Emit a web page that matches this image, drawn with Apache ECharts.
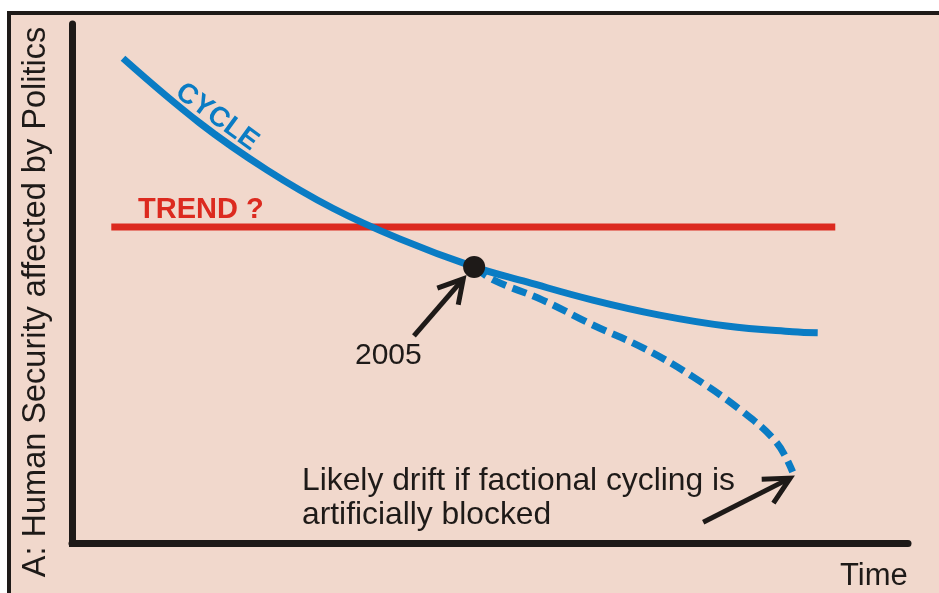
<!DOCTYPE html>
<html>
<head>
<meta charset="utf-8">
<script src="https://cdn.jsdelivr.net/npm/echarts@6/dist/echarts.min.js"></script>
<style>
html,body{margin:0;padding:0;background:#ffffff;}
#chart{width:939px;height:593px;}
</style>
</head>
<body>
<div id="chart"></div>
<script>
// Values (x: time 0-100, y: human security 0-100)
var cycleX = [6.1, 15.3, 23.3, 31.2, 39.2, 48.1, 54.4, 62.3, 70.3, 78.3, 86.2, 89.2];
var cycleY = [93.4, 80.9, 71.9, 64.5, 58.6, 53.2, 50.3, 46.8, 43.9, 41.8, 40.7, 40.5];
var driftX = [48.1, 50.4, 56.3, 62.3, 68.3, 74.3, 80.3, 84.3, 86.2];
var driftY = [53.2, 50.7, 46.8, 42.0, 37.6, 32.0, 25.2, 19.3, 13.7];
var trendX = [4.7, 91.3];
var trendY = [60.9, 60.9];
var point2005 = [48.1, 53.2];
var arrow1Shaft = [[40.9, 39.9], [46.8, 50.9]];
var arrow1Head = [[43.7, 49.1], [46.8, 50.9], [46.2, 45.9]];
var arrow2Shaft = [[75.5, 4.0], [85.9, 12.5]];
var arrow2Head = [[82.5, 12.3], [85.9, 12.5], [83.9, 7.7]];
var labels = {
  yName: 'A: Human Security affected by Politics',
  xName: 'Time',
  cycle: 'CYCLE',
  trend: 'TREND ?',
  year: '2005',
  note1: 'Likely drift if factional cycling is',
  note2: 'artificially blocked'
};

function zip(xs, ys) { return xs.map(function (x, i) { return [x, ys[i]]; }); }

var BLUE = '#0a7cc4', RED = '#dc2a1f', INK = '#1e1a18', BG = '#f1d8cc';
var FONT = '"Liberation Sans", Arial, sans-serif';

var chart = echarts.init(document.getElementById('chart'), null, {renderer: 'canvas'});
var axisCommon = {
  type: 'value', min: 0, max: 100,
  axisLine: {show: true, lineStyle: {color: INK, width: 7}},
  axisTick: {show: false}, axisLabel: {show: false}, splitLine: {show: false}
};
function blackLine(data) {
  return {
    type: 'line', data: data, showSymbol: false, symbol: 'none', z: 6,
    lineStyle: {color: INK, width: 5, cap: 'butt', join: 'miter'}, silent: true
  };
}
chart.setOption({
  backgroundColor: '#ffffff',
  animation: false,
  grid: {left: 72, right: 31, top: 24, bottom: 50},
  xAxis: axisCommon,
  yAxis: axisCommon,
  graphic: [
    {type: 'rect', z: -10, shape: {x: 9, y: 13, width: 960, height: 620},
     style: {fill: BG, stroke: INK, lineWidth: 4}},
    {type: 'rect', z: 1, shape: {x: 69, y: 540, width: 4, height: 7}, style: {fill: INK}},
    {type: 'text', z: 50, x: 36, y: 302, rotation: Math.PI / 2,
     style: {text: labels.yName, font: '32.5px ' + FONT, fill: INK, textAlign: 'center', textVerticalAlign: 'middle'}},
    {type: 'text', z: 50, x: 840, y: 576,
     style: {text: labels.xName, font: '31px ' + FONT, fill: INK, textAlign: 'left', textVerticalAlign: 'middle'}},
    {type: 'text', z: 50, x: 217, y: 117, rotation: -0.63,
     style: {text: labels.cycle, font: 'bold 28px ' + FONT, fill: BLUE, textAlign: 'center', textVerticalAlign: 'middle'}},
    {type: 'text', z: 50, x: 138, y: 210,
     style: {text: labels.trend, font: 'bold 29px ' + FONT, fill: RED, textAlign: 'left', textVerticalAlign: 'middle'}},
    {type: 'text', z: 50, x: 355, y: 356,
     style: {text: labels.year, font: '30px ' + FONT, fill: INK, textAlign: 'left', textVerticalAlign: 'middle'}},
    {type: 'text', z: 50, x: 302, y: 481,
     style: {text: labels.note1, font: '31.8px ' + FONT, fill: INK, textAlign: 'left', textVerticalAlign: 'middle'}},
    {type: 'text', z: 50, x: 302, y: 515,
     style: {text: labels.note2, font: '31.8px ' + FONT, fill: INK, textAlign: 'left', textVerticalAlign: 'middle'}}
  ],
  series: [
    {type: 'line', data: zip(trendX, trendY), showSymbol: false, symbol: 'none', z: 2,
     lineStyle: {color: RED, width: 7, cap: 'butt'}},
    {type: 'line', data: zip(driftX, driftY), smooth: 0.4, showSymbol: false, symbol: 'none', z: 3,
     lineStyle: {color: BLUE, width: 7, type: [15, 7], cap: 'butt'}},
    {type: 'line', data: zip(cycleX, cycleY), smooth: 0.4, showSymbol: false, symbol: 'none', z: 4,
     lineStyle: {color: BLUE, width: 7, cap: 'butt'}},
    blackLine(arrow1Shaft), blackLine(arrow1Head),
    blackLine(arrow2Shaft), blackLine(arrow2Head),
    {type: 'scatter', data: [point2005], symbol: 'circle', symbolSize: 22, z: 7,
     itemStyle: {color: INK, opacity: 1}}
  ]
});
</script>
</body>
</html>
